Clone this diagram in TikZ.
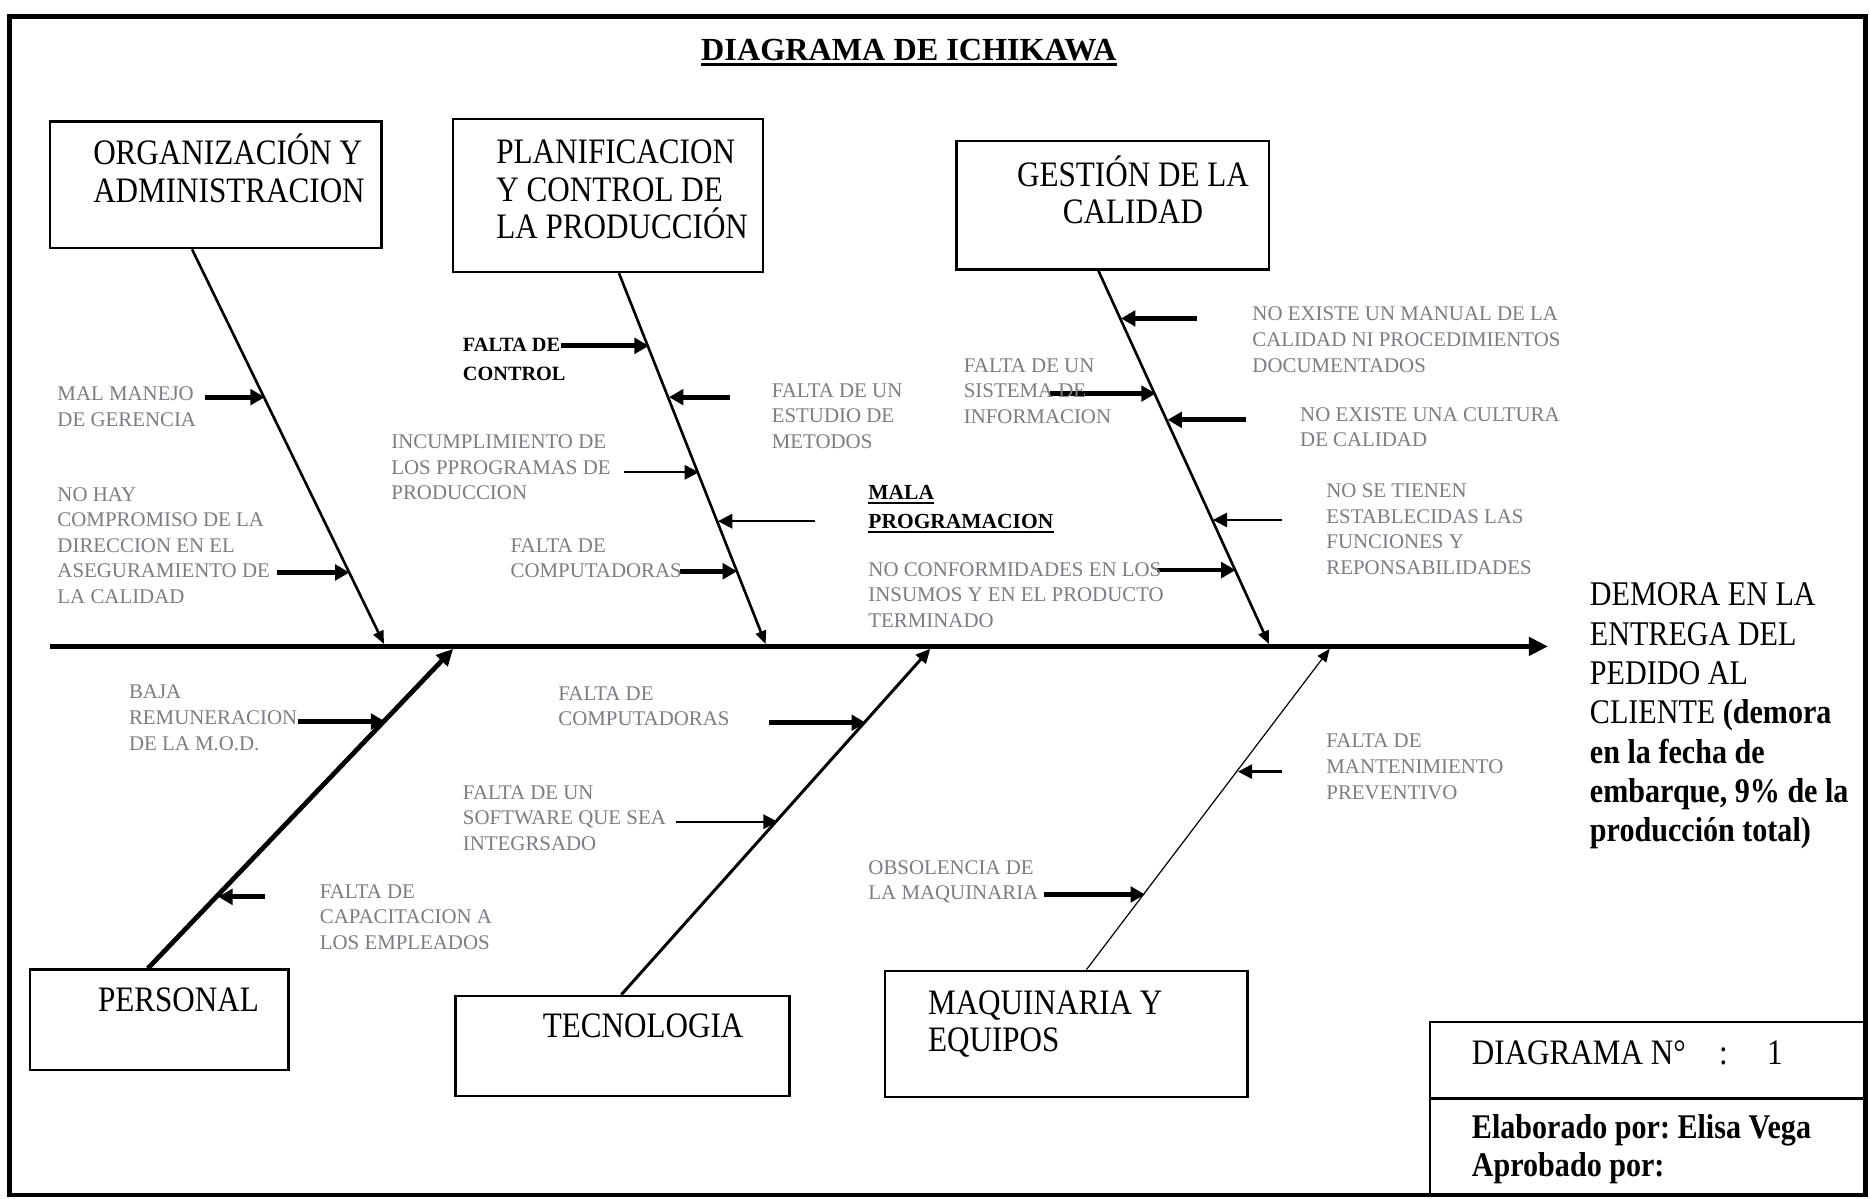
\documentclass[tikz,border=0pt]{standalone}
\usepackage{fontspec}
\setmainfont{Liberation Serif}
\newfontfamily\condensed[FakeStretch=0.87]{Liberation Serif}
\usetikzlibrary{arrows.meta}
\definecolor{labelgray}{RGB}{128,122,132}
\frenchspacing
\begin{document}
\begin{tikzpicture}[x=1pt,y=-1pt,
  catbox/.style={draw,line width=2pt,inner sep=0pt},
  cattext/.style={inner sep=0pt,align=left,anchor=north west,font=\condensed\fontsize{30}{31.5}\selectfont},
  cause/.style={inner sep=0pt,align=left,anchor=north west,text=labelgray,font=\fontsize{17.5}{21.5}\selectfont},
  keycause/.style={inner sep=0pt,align=left,anchor=north west,font=\bfseries\fontsize{17}{24}\selectfont},
  spine/.style={line width=4pt,-{Triangle[length=16pt,width=15pt]}},
  bone/.style={line width=2.2pt,-{Triangle[length=11pt,width=9pt]}},
  hit/.style={line width=4pt,-{Triangle[length=12pt,width=13pt]}},
  lighthit/.style={line width=2pt,-{Triangle[length=12pt,width=12pt]}},
  rule/.style={line width=2.2pt}
]
\fill[white] (0,0) rectangle (1568,1005);
\useasboundingbox (0,0) rectangle (1568,1005);
\draw[line width=4pt] (8,14) rectangle (1564,1002);

% title
\node[inner sep=0pt,font=\bfseries\fontsize{27}{32}\selectfont] (title) at (762,42) {DIAGRAMA DE ICHIKAWA};
\draw[rule] ([yshift=-3.5pt]title.base west) -- ([yshift=-3.5pt]title.base east);

% category boxes
\node[catbox,minimum width=278pt,minimum height=106pt] (org)  at (181,155) {};
\node[catbox,minimum width=260pt,minimum height=128pt] (plan) at (510,164) {};
\node[catbox,minimum width=262pt,minimum height=108pt] (gest) at (933,172) {};
\node[catbox,minimum width=217pt,minimum height=84pt]  (pers) at (133.5,855) {};
\node[catbox,minimum width=280pt,minimum height=84pt]  (tec)  at (522,877) {};
\node[catbox,minimum width=304pt,minimum height=106pt] (maq)  at (894,867) {};

\node[cattext] (orgtxt)  at (78,118.2)  {ORGANIZACI\smash{Ó}N Y\\ADMINISTRACION};
\node[cattext] (plantxt) at (416,117.2) {PLANIFICACION\\Y CONTROL DE\\LA PRODUCCIÓN};
\node[cattext,anchor=north,align=center] (gesttxt) at (950,136.2) {GESTI\smash{Ó}N DE LA\\CALIDAD};
\node[cattext] (perstxt) at (82,828.2)  {PERSONAL};
\node[cattext] (tectxt)  at (455,850.2) {TECNOLOGIA};
\node[cattext] (maqtxt)  at (778,830.2) {MAQUINARIA Y\\EQUIPOS};

% spine and effect
\coordinate (tail) at (42,542);
\coordinate (head) at (1298,542);
\draw[spine] (tail) -- (head);
\node[inner sep=0pt,align=left,anchor=north west,font=\condensed\fontsize{29}{33}\selectfont] (effect) at (1333,488.5)
  {DEMORA EN LA\\ENTREGA DEL\\PEDIDO AL\\CLIENTE \textbf{(demora}\\\textbf{en la fecha de}\\\textbf{embarque, 9\% de la}\\\textbf{producción total)}};

% main bones
\coordinate (j1) at (322,540);
\coordinate (j2) at (642,540);
\coordinate (j3) at (1064,540);
\coordinate (j4) at (380,544);
\coordinate (j5) at (780,544);
\coordinate (j6) at (1115,544);
\draw[bone] ([xshift=120pt]org.south west) -- (j1);
\draw[bone] ([xshift=140pt]plan.south west) -- (j2);
\draw[bone] ([xshift=120pt]gest.south west) -- (j3);
\draw[line width=4pt,-{Triangle[length=14pt,width=13pt]}] ([xshift=100pt]pers.north west) -- (j4);
\draw[line width=2.5pt,-{Triangle[length=12pt,width=11pt]}] ([xshift=140pt]tec.north west) -- (j5);
\draw[line width=1pt,-{Triangle[length=11pt,width=9pt]}] ([xshift=170pt]maq.north west) -- (j6);

% cause arrows: number / tail x / tip x / y / style
\foreach \n/\tx/\hx/\y/\s in {
  1/172/222/333/hit, 2/232/293/480/hit, 3/470/544/290/hit, 4/612/561/333/hit,
  5/523/586/396/lighthit, 6/683/602/437/lighthit, 7/570/618/479/hit,
  8/1004/940/267/hit, 9/880/969/330/hit, 10/1045/979/352/hit,
  11/1075/1017/436/lighthit, 12/970/1036/478/hit,
  13/250/323/605/hit, 14/222/183/752/hit, 15/645/726/606/hit,
  16/567/652/689/lighthit, 17/1075/1038/647/lighthit, 18/875/960/750/hit}
{
  \coordinate (ct\n) at (\tx,\y);
  \coordinate (ch\n) at (\hx,\y);
  \draw[\s] (ct\n) -- (ch\n);
}

% cause labels
\node[cause] (c1)  at (48,324.3)   {MAL MANEJO\\DE GERENCIA};
\node[cause] (c2)  at (48,408.3)   {NO HAY\\COMPROMISO DE LA\\DIRECCION EN EL\\ASEGURAMIENTO DE\\LA CALIDAD};
\node[keycause] (c3) at (388,283.4) {FALTA DE\\CONTROL};
\node[cause] (c4)  at (647,321.3)  {FALTA DE UN\\ESTUDIO DE\\METODOS};
\node[cause] (c5)  at (328,364.3)  {INCUMPLIMIENTO DE\\LOS PPROGRAMAS DE\\PRODUCCION};
\node[inner sep=0pt,anchor=north west,font=\bfseries\fontsize{18}{24}\selectfont] (c6a) at (728,407.1) {MALA};
\node[inner sep=0pt,anchor=north west,font=\bfseries\fontsize{18}{24}\selectfont] (c6b) at (728,431.1) {PROGRAMACION};
\draw[line width=1.6pt] ([yshift=-2.5pt]c6a.base west) -- ([yshift=-2.5pt]c6a.base east);
\draw[line width=1.6pt] ([yshift=-2.5pt]c6b.base west) -- ([yshift=-2.5pt]c6b.base east);
\node[cause] (c7)  at (428,451.3)  {FALTA DE\\COMPUTADORAS};
\node[cause] (c8)  at (1050,257.3) {NO EXISTE UN MANUAL DE LA\\CALIDAD NI PROCEDIMIENTOS\\DOCUMENTADOS};
\node[cause] (c9)  at (808,300.3)  {FALTA DE UN\\SISTEMA DE\\INFORMACION};
\node[cause] (c10) at (1090,341.3) {NO EXISTE UNA CULTURA\\DE CALIDAD};
\node[cause] (c11) at (1112,405.3) {NO SE TIENEN\\ESTABLECIDAS LAS\\FUNCIONES Y\\REPONSABILIDADES};
\node[cause] (c12) at (728,471.3)  {NO CONFORMIDADES EN LOS\\INSUMOS Y EN EL PRODUCTO\\TERMINADO};
\node[cause] (c13) at (108,574.3)  {BAJA\\REMUNERACION\\DE LA M.O.D.};
\node[cause] (c14) at (268,741.3)  {FALTA DE\\CAPACITACION A\\LOS EMPLEADOS};
\node[cause] (c15) at (468,575.3)  {FALTA DE\\COMPUTADORAS};
\node[cause] (c16) at (388,658.3)  {FALTA DE UN\\SOFTWARE QUE SEA\\INTEGRSADO};
\node[cause] (c17) at (1112,615.3) {FALTA DE\\MANTENIMIENTO\\PREVENTIVO};
\node[cause] (c18) at (728,721.3)  {OBSOLENCIA DE\\LA MAQUINARIA};

% record box
\node[catbox,minimum width=366pt,minimum height=64pt,anchor=north west] (infotop) at (1198,856) {};
\node[catbox,minimum width=366pt,minimum height=82pt,anchor=north west] (infobot) at (1198,920) {};
\node[inner sep=0pt,anchor=base west,font=\condensed\fontsize{30}{32}\selectfont] (dnum) at (1234,892.8)
  {DIAGRAMA N°\hspace{28pt}:\hspace{33pt}1};
\node[inner sep=0pt,anchor=north west,align=left,font=\condensed\bfseries\fontsize{29}{32}\selectfont] (auth) at (1234,934.5)
  {Elaborado por: Elisa Vega\\Aprobado por:};
\end{tikzpicture}
\end{document}
